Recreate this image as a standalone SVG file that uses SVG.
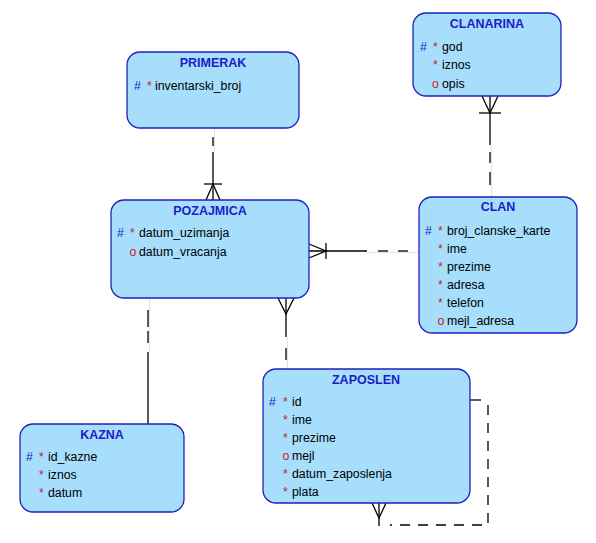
<svg xmlns="http://www.w3.org/2000/svg" width="596" height="543" viewBox="0 0 596 543">
<style>
.box{fill:#a6defc;stroke:#1f1fbf;stroke-width:1.3}
.title{font-family:"Liberation Sans",Arial,sans-serif;font-size:12.5px;font-weight:bold;fill:#1c1cc8;text-anchor:middle}
.t{font-family:"Liberation Sans",Arial,sans-serif;font-size:12.3px;fill:#000}
.h{font-family:"Liberation Sans",Arial,sans-serif;font-size:12.3px;fill:#1c1cc8}
.r{font-family:"Liberation Sans",Arial,sans-serif;font-size:12.3px;fill:#c8202a}
.ln{stroke:#000;stroke-width:1.3;fill:none}
.dash{stroke:#000;stroke-width:1.3;fill:none;stroke-dasharray:10 8}
.ghost{stroke:#e2e2e2;stroke-width:1;fill:none}
</style>
<rect width="596" height="543" fill="#fff"/>
<g id="connectors">
  <!-- PRIMERAK - POZAJMICA -->
  <line class="ghost" x1="214.5" y1="128" x2="214.5" y2="152"/>
  <line class="ln" x1="213" y1="137" x2="213" y2="146"/>
  <line class="ln" x1="213" y1="152" x2="213" y2="200"/>
  <line class="ln" x1="204" y1="184" x2="222" y2="184"/>
  <polyline class="ln" points="206,200 213,184 220,200"/>
  <!-- CLANARINA - CLAN -->
  <line class="ghost" x1="491.5" y1="145" x2="491.5" y2="197"/>
  <line class="ln" x1="490" y1="96" x2="490" y2="145"/>
  <line class="ln" x1="490" y1="152" x2="490" y2="163"/>
  <line class="ln" x1="490" y1="172" x2="490" y2="185"/>
  <line class="ln" x1="479" y1="113" x2="501" y2="113"/>
  <polyline class="ln" points="482,96 490,113 498,96"/>
  <!-- POZAJMICA - CLAN -->
  <line class="ghost" x1="367" y1="252.5" x2="419" y2="252.5"/>
  <line class="ln" x1="309" y1="251" x2="367" y2="251"/>
  <line class="ln" x1="378" y1="251" x2="388" y2="251"/>
  <line class="ln" x1="398" y1="251" x2="408" y2="251"/>
  <line class="ln" x1="326" y1="243" x2="326" y2="259"/>
  <polyline class="ln" points="309,244 326,251 309,258"/>
  <!-- POZAJMICA - ZAPOSLEN -->
  <line class="ghost" x1="287.5" y1="337" x2="287.5" y2="369"/>
  <line class="ln" x1="286" y1="298" x2="286" y2="337"/>
  <line class="ln" x1="286" y1="348" x2="286" y2="360"/>
  <polyline class="ln" points="278,298 286,314 294,298"/>
  <!-- POZAJMICA - KAZNA -->
  <line class="ghost" x1="149.5" y1="298" x2="149.5" y2="352"/>
  <line class="ln" x1="148" y1="310" x2="148" y2="327"/>
  <line class="ln" x1="148" y1="331" x2="148" y2="343"/>
  <line class="ln" x1="148" y1="352" x2="148" y2="424"/>
  <!-- ZAPOSLEN self -->
  <line class="ln" x1="470" y1="400" x2="481" y2="400"/>
  <path class="dash" d="M488,405 V525 H390"/>
  <line class="ln" x1="379" y1="503" x2="379" y2="526"/>
  <polyline class="ln" points="372,503 379,518 386,503"/>
</g>
<g id="PRIMERAK">
  <rect class="box" x="127" y="52" width="172" height="76" rx="13"/>
  <text class="title" x="213" y="67">PRIMERAK</text>
  <text class="h" x="134" y="90">#</text><text class="r" x="147" y="90">*</text><text class="t" x="155" y="90">inventarski_broj</text>
</g>
<g id="CLANARINA">
  <rect class="box" x="413" y="13" width="148" height="83" rx="13"/>
  <text class="title" x="487" y="28">CLANARINA</text>
  <text class="h" x="420" y="51">#</text><text class="r" x="433" y="51">*</text><text class="t" x="442" y="51">god</text>
  <text class="r" x="433" y="69">*</text><text class="t" x="442" y="69">iznos</text>
  <text class="r" x="432" y="88">o</text><text class="t" x="442" y="88">opis</text>
</g>
<g id="POZAJMICA">
  <rect class="box" x="111" y="200" width="198" height="98" rx="13"/>
  <text class="title" x="210" y="215">POZAJMICA</text>
  <text class="h" x="117" y="237">#</text><text class="r" x="130" y="237">*</text><text class="t" x="139" y="237">datum_uzimanja</text>
  <text class="r" x="129.5" y="256">o</text><text class="t" x="139" y="256">datum_vracanja</text>
</g>
<g id="CLAN">
  <rect class="box" x="419" y="197" width="158" height="136" rx="13"/>
  <text class="title" x="498" y="211">CLAN</text>
  <text class="h" x="425" y="235">#</text><text class="r" x="438" y="235">*</text><text class="t" x="447" y="235">broj_clanske_karte</text>
  <text class="r" x="438" y="253">*</text><text class="t" x="447" y="253">ime</text>
  <text class="r" x="438" y="271">*</text><text class="t" x="447" y="271">prezime</text>
  <text class="r" x="438" y="289">*</text><text class="t" x="447" y="289">adresa</text>
  <text class="r" x="438" y="307">*</text><text class="t" x="447" y="307">telefon</text>
  <text class="r" x="437.5" y="325">o</text><text class="t" x="447" y="325">mejl_adresa</text>
</g>
<g id="ZAPOSLEN">
  <rect class="box" x="263" y="369" width="207" height="134" rx="13"/>
  <text class="title" x="366" y="384">ZAPOSLEN</text>
  <text class="h" x="269" y="406">#</text><text class="r" x="283" y="406">*</text><text class="t" x="292" y="406">id</text>
  <text class="r" x="283" y="424">*</text><text class="t" x="292" y="424">ime</text>
  <text class="r" x="283" y="442">*</text><text class="t" x="292" y="442">prezime</text>
  <text class="r" x="282.5" y="460">o</text><text class="t" x="292" y="460">mejl</text>
  <text class="r" x="283" y="478">*</text><text class="t" x="292" y="478">datum_zaposlenja</text>
  <text class="r" x="283" y="496">*</text><text class="t" x="292" y="496">plata</text>
</g>
<g id="KAZNA">
  <rect class="box" x="20" y="424" width="164" height="88" rx="13"/>
  <text class="title" x="102" y="439">KAZNA</text>
  <text class="h" x="26" y="461">#</text><text class="r" x="39" y="461">*</text><text class="t" x="48" y="461">id_kazne</text>
  <text class="r" x="39" y="479">*</text><text class="t" x="48" y="479">iznos</text>
  <text class="r" x="39" y="497">*</text><text class="t" x="48" y="497">datum</text>
</g>
</svg>
